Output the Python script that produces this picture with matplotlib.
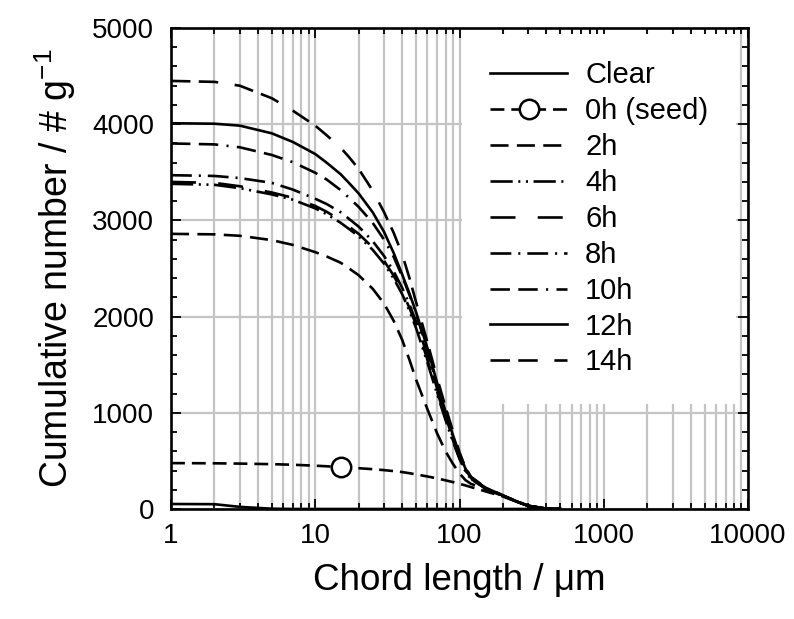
import matplotlib
matplotlib.use("Agg")
import matplotlib.pyplot as plt
from matplotlib.lines import Line2D
from matplotlib.ticker import FixedLocator, FixedFormatter, MultipleLocator

plt.rcParams['font.family'] = ['Liberation Sans', 'DejaVu Sans']
plt.rcParams['mathtext.fontset'] = 'custom'
plt.rcParams['mathtext.rm'] = 'Liberation Sans'
plt.rcParams['mathtext.it'] = 'Liberation Sans:italic'
plt.rcParams['lines.scale_dashes'] = False

# chord length grid (um) shared by all curves
chord = [1, 2, 3, 5, 7, 10, 12, 15, 17, 20, 25, 30, 35, 40, 45, 50, 60, 70, 80, 90, 100,
         110, 120, 150, 200, 250, 300, 400, 500]

clear = [52, 50, 22, 3, 0, 0, 0, 0, 0, 0, 0, 0, 0, 0, 0, 0, 0, 0, 0, 0, 0,
         0, 0, 0, 0, 0, 0, 0, 0]
h0 = [477, 475, 472, 466, 460, 450, 444, 436, 430, 424, 414, 404, 394, 384, 372, 360, 338, 318, 298, 280, 262,
      245, 228, 185, 130, 75, 32, 4, 0]
h2 = [2860, 2855, 2840, 2795, 2745, 2670, 2625, 2560, 2505, 2430, 2290, 2135, 1955, 1760, 1550, 1345, 1035, 785, 600, 470, 370,
      300, 262, 208, 135, 75, 32, 4, 0]
h4 = [3380, 3370, 3335, 3270, 3215, 3125, 3065, 2975, 2915, 2835, 2695, 2550, 2395, 2235, 2060, 1880, 1520, 1195, 925, 700, 520,
      390, 312, 216, 136, 76, 32, 4, 0]
h6 = [3400, 3390, 3355, 3290, 3235, 3150, 3090, 3000, 2940, 2860, 2720, 2580, 2425, 2260, 2090, 1915, 1550, 1220, 945, 715, 530,
      395, 315, 218, 137, 76, 32, 4, 0]
h8 = [3470, 3462, 3440, 3390, 3320, 3225, 3170, 3085, 3020, 2935, 2785, 2630, 2470, 2300, 2125, 1950, 1590, 1250, 965, 730, 540,
      400, 318, 220, 138, 77, 32, 4, 0]
h10 = [3800, 3790, 3760, 3680, 3605, 3495, 3425, 3315, 3240, 3140, 2975, 2800, 2620, 2420, 2225, 2030, 1650, 1290, 990, 750, 555,
       410, 325, 222, 139, 78, 33, 4, 0]
h12 = [4010, 4005, 3985, 3905, 3815, 3690, 3600, 3480, 3395, 3280, 3085, 2880, 2660, 2440, 2240, 2045, 1670, 1310, 1010, 770, 570,
       420, 330, 225, 140, 79, 33, 4, 0]
h14 = [4450, 4440, 4400, 4270, 4140, 3985, 3885, 3755, 3665, 3535, 3310, 3085, 2870, 2650, 2400, 2150, 1730, 1360, 1060, 810, 590,
       430, 335, 228, 142, 80, 34, 4, 0]

seed_marker_x = 15

labels = ["Clear", "0h (seed)", "2h", "4h", "6h", "8h", "10h", "12h", "14h"]
series = [clear, h0, h2, h4, h6, h8, h10, h12, h14]
styles = [
    '-',
    (0, (10, 5)),
    (0, (13, 6)),
    (0, (16, 4, 1.5, 4, 1.5, 4)),
    (0, (18, 16)),
    (0, (15, 5, 1.5, 5)),
    (0, (14, 6, 14, 6, 1.5, 6)),
    '-',
    (0, (14, 6, 14, 12)),
]

x_ticks = [1, 10, 100, 1000, 10000]
x_tick_labels = ["1", "10", "100", "1000", "10000"]
x_minor = [m * 10 ** k for k in range(4) for m in range(2, 10)]
y_ticks = [0, 1000, 2000, 3000, 4000, 5000]


def main():

    fig = plt.figure(figsize=(7.94, 6.19), dpi=100)
    ax = fig.add_axes([171 / 794, 1 - 509 / 619, 577 / 794, 481 / 619])

    lw = 1.9
    handles = []
    for lab, y, ls in zip(labels, series, styles):
        if lab.startswith("0h"):
            idx = chord.index(seed_marker_x)
            ax.plot(chord, y, color='black', lw=lw, linestyle=ls,
                    marker='o', markevery=[idx], markersize=14,
                    markerfacecolor='white', markeredgewidth=1.8, zorder=3)
            handles.append(Line2D([], [], color='black', lw=lw, linestyle=ls,
                                  marker='o', markersize=14,
                                  markerfacecolor='white', markeredgewidth=1.8))
        else:
            line, = ax.plot(chord, y, color='black', lw=lw, linestyle=ls, zorder=3)
            handles.append(line)

    ax.set_xscale('log')
    ax.set_xlim(1, 10000)
    ax.set_ylim(0, 5000)

    ax.xaxis.set_major_locator(FixedLocator(x_ticks))
    ax.xaxis.set_major_formatter(FixedFormatter(x_tick_labels))
    ax.xaxis.set_minor_locator(FixedLocator(x_minor))
    ax.xaxis.set_minor_formatter(FixedFormatter([]))
    ax.set_yticks(y_ticks)
    ax.yaxis.set_minor_locator(MultipleLocator(200))

    ax.grid(True, which='major', axis='both', color='#c4c4c4', lw=1.6, zorder=0)
    ax.grid(True, which='minor', axis='x', color='#c4c4c4', lw=1.6, zorder=0)
    ax.set_axisbelow(True)

    ax.tick_params(which='both', direction='in', top=True, right=True,
                   width=1.3, labelsize=20, colors='black')
    ax.tick_params(which='major', length=7)
    ax.tick_params(which='minor', length=4)
    ax.tick_params(axis='x', pad=10)
    ax.tick_params(axis='y', pad=12)
    for sp in ax.spines.values():
        sp.set_linewidth(1.9)

    ax.set_xlabel("Chord length / μm", fontsize=26.5, labelpad=10)
    ax.set_ylabel("Cumulative number / # g$^{-1}$", fontsize=27, labelpad=10)

    leg = ax.legend(handles, labels, loc='upper left', bbox_to_anchor=(0.505, 0.988),
                    borderaxespad=0, fontsize=21, frameon=True, fancybox=False,
                    framealpha=1, facecolor='white', edgecolor='none',
                    handlelength=2.64, handletextpad=0.62, labelspacing=0.27,
                    borderpad=0.95, numpoints=1)
    leg.set_zorder(5)

    plt.savefig("out.png", dpi=100)


if __name__ == "__main__":

    main()
